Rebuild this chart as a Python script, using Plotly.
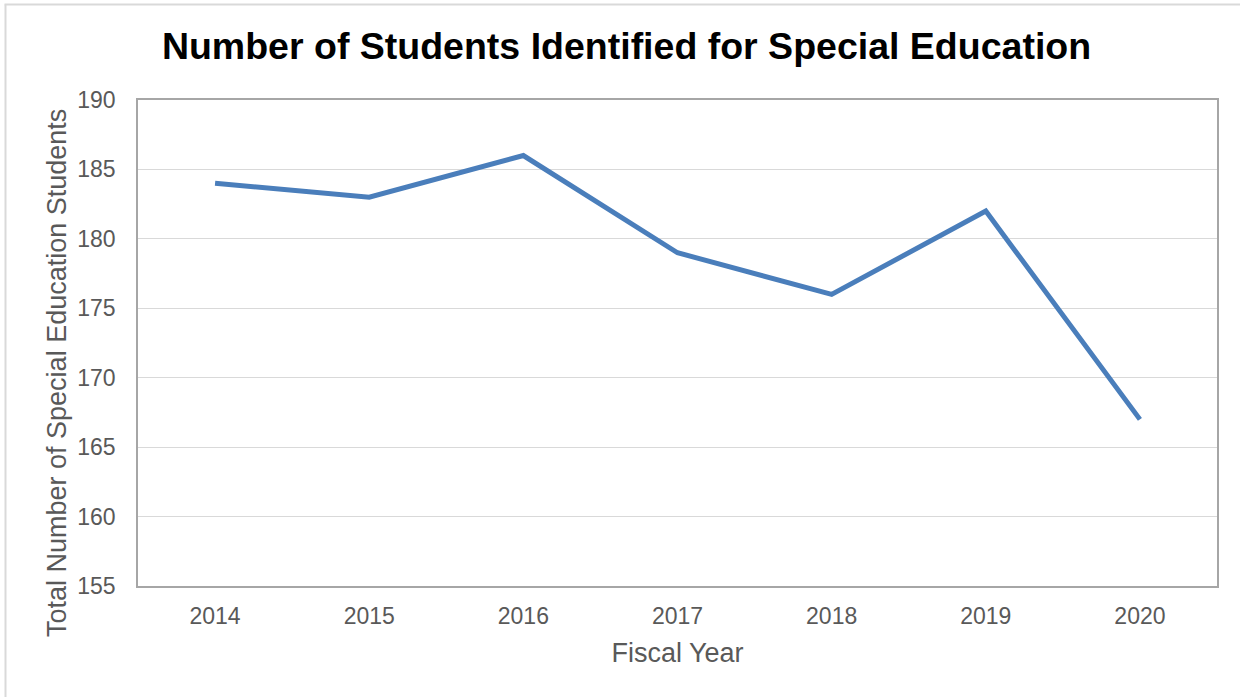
import plotly.graph_objects as go

years = ["2014", "2015", "2016", "2017", "2018", "2019", "2020"]
students = [184, 183, 186, 179, 176, 182, 167]
y_ticks = [155, 160, 165, 170, 175, 180, 185, 190]

L, R, T, B = 138, 23, 100, 111
W, H = 1240, 697
pw, ph = W - L - R, H - T - B

def px_x(x):
    return (x - L) / pw

def px_y(y):
    return (H - B - y) / ph

fig = go.Figure()
fig.add_trace(go.Scatter(x=years, y=students, mode="lines",
                         line=dict(color="#4a7ebb", width=5)))

fig.update_layout(
    width=W, height=H,
    margin=dict(l=L, r=R, t=T, b=B),
    paper_bgcolor="white", plot_bgcolor="white",
    showlegend=False,
    font=dict(family="Liberation Sans, Arial, sans-serif", color="#595959"),
    title=dict(text="<b>Number of Students Identified for Special Education</b>",
               x=626.5 / W, xanchor="center", y=1 - 46 / H, yanchor="middle",
               font=dict(size=37.5, color="black")),
    xaxis=dict(type="category", range=[-0.5, 6.5], showgrid=False,
               showline=True, linecolor="#a6a6a6", linewidth=1.5, mirror=True,
               ticks="", tickfont=dict(size=23), ticklabelstandoff=9,
               title=dict(text="Fiscal Year", font=dict(size=27), standoff=15)),
    yaxis=dict(range=[155, 190], tickvals=y_ticks, showgrid=True,
               gridcolor="#d9d9d9", gridwidth=1,
               showline=True, linecolor="#a6a6a6", linewidth=1.5, mirror=True,
               ticks="", tickfont=dict(size=23), ticklabelstandoff=16,
               zeroline=False),
)

fig.add_annotation(text="Total Number of Special Education Students",
                   xref="paper", yref="paper", x=px_x(57), y=px_y(373),
                   xanchor="center", yanchor="middle", textangle=-90,
                   showarrow=False, font=dict(size=27, color="#595959"))

fig.add_shape(type="line", xref="paper", yref="paper",
              x0=px_x(5.5), x1=px_x(5.5), y0=px_y(H + 5), y1=px_y(4.5),
              line=dict(color="#d9d9d9", width=2), layer="below")
fig.add_shape(type="line", xref="paper", yref="paper",
              x0=px_x(4.5), x1=px_x(W + 5), y0=px_y(4.5), y1=px_y(4.5),
              line=dict(color="#d9d9d9", width=2), layer="below")

fig.write_html("out.html", config={"displayModeBar": False},
               post_script="document.body.style.margin='0';")
